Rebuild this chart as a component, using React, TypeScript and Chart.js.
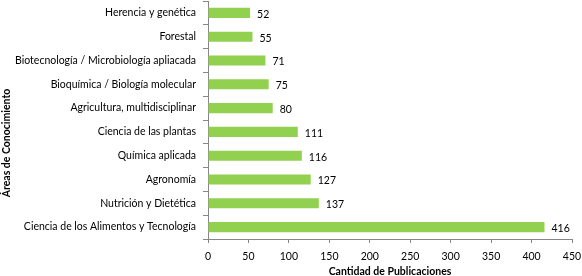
import React, { useEffect, useRef } from "react";
import { Chart, registerables } from "chart.js";

Chart.register(...registerables);

const categories = [
  "Herencia y genética",
  "Forestal",
  "Biotecnología / Microbiología apliacada",
  "Bioquímica / Biología molecular",
  "Agricultura, multidisciplinar",
  "Ciencia de las plantas",
  "Química aplicada",
  "Agronomía",
  "Nutrición y Dietética",
  "Ciencia de los Alimentos y Tecnología",
];
const values = [52, 55, 71, 75, 80, 111, 116, 127, 137, 416];
const xTicks = [0, 50, 100, 150, 200, 250, 300, 350, 400, 450];
const yTitle = "Áreas de Conocimiento";
const xTitle = "Cantidad de Publicaciones";

const FONT = "Lato, 'Open Sans', sans-serif";

const valueLabels = {
  id: "valueLabels",
  afterDatasetsDraw(chart: any) {
    const { ctx } = chart;
    const meta = chart.getDatasetMeta(0);
    ctx.save();
    ctx.font = `10.5px ${FONT}`;
    ctx.fillStyle = "#000";
    ctx.textAlign = "left";
    ctx.textBaseline = "middle";
    meta.data.forEach((bar: any, i: number) => {
      ctx.fillText(String(values[i]), bar.x + 7, bar.y + 1.5);
    });
    ctx.restore();
  },
};

const titlesPlugin = {
  id: "titlesPlugin",
  afterDraw(chart: any) {
    const { ctx, chartArea } = chart;
    ctx.save();
    ctx.font = `bold 10.5px ${FONT}`;
    ctx.fillStyle = "#000";
    ctx.textAlign = "center";
    ctx.textBaseline = "middle";
    ctx.fillText(xTitle, (chartArea.left + chartArea.right) / 2, 272);
    ctx.translate(7, 143);
    ctx.rotate(-Math.PI / 2);
    ctx.fillText(yTitle, 0, 0);
    ctx.restore();
  },
};

export default function App() {
  const ref = useRef<HTMLCanvasElement>(null);
  useEffect(() => {
    const chart = new Chart(ref.current!, {
      type: "bar",
      data: {
        labels: categories,
        datasets: [
          {
            data: values,
            backgroundColor: "#92D050",
            barPercentage: 0.85,
            categoryPercentage: 0.5,
          },
        ],
      },
      options: {
        indexAxis: "y",
        animation: false,
        responsive: false,
        maintainAspectRatio: false,
        layout: { padding: { top: 1, right: 10, left: 0, bottom: 0 } },
        plugins: { legend: { display: false }, tooltip: { enabled: false } },
        scales: {
          x: {
            min: 0,
            max: 450,
            afterBuildTicks: (s: any) => {
              s.ticks = xTicks.map((v) => ({ value: v }));
            },
            afterFit: (s: any) => {
              s.height = 37;
              s.paddingLeft = 0;
              s.paddingRight = 0;
            },
            grid: {
              drawOnChartArea: false,
              drawTicks: true,
              tickLength: 4,
              color: "#868686",
            },
            border: { display: true, color: "#868686" },
            ticks: {
              color: "#000",
              font: { family: FONT, size: 10.5 },
              padding: 7,
              maxRotation: 0,
            },
          },
          y: {
            afterFit: (s: any) => {
              s.width = 208;
              s.paddingTop = 0;
              s.paddingBottom = 0;
            },
            grid: {
              offset: true,
              drawOnChartArea: false,
              drawTicks: true,
              tickLength: 5,
              color: "#868686",
            },
            border: { display: true, color: "#868686" },
            ticks: {
              color: "#000",
              font: { family: FONT, size: 10.5 },
              padding: 7,
              autoSkip: false,
            },
          },
        },
      },
      plugins: [valueLabels, titlesPlugin],
    });
    return () => chart.destroy();
  }, []);
  return (
    <div style={{ position: "fixed", left: 0, top: 0, width: 582, height: 276, background: "#fff" }}>
      <canvas ref={ref} width={582} height={276} />
    </div>
  );
}
